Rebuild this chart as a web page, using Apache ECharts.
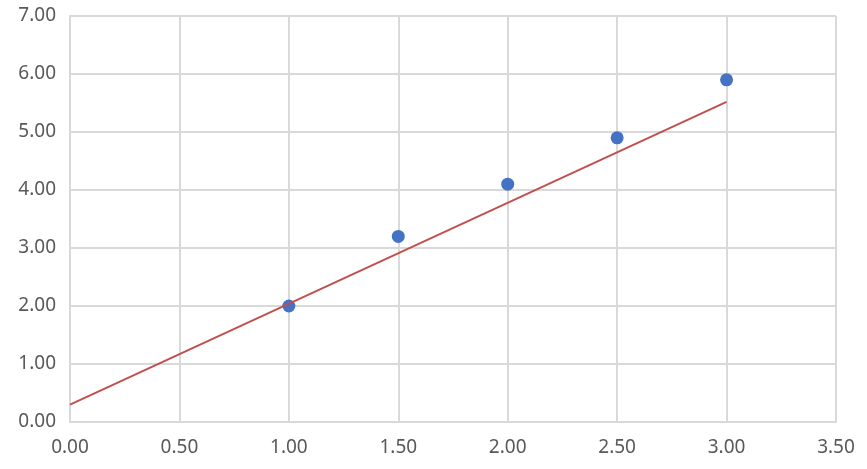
<!DOCTYPE html>
<html>
<head>
<meta charset="utf-8">
<script src="https://cdn.jsdelivr.net/npm/echarts@6/dist/echarts.min.js"></script>
<style>html,body{margin:0;padding:0;background:#fff;}#c{width:867px;height:469px;}</style>
</head>
<body>
<div id="c"></div>
<script>
const xValues = [1.0, 1.5, 2.0, 2.5, 3.0];
const yValues = [2.0, 3.2, 4.1, 4.9, 5.9];
const lineX = [0, 3.0];
const lineY = [0.30, 5.52];

const chart = echarts.init(document.getElementById('c'));
const labelStyle = {color: '#595959', fontSize: 19, fontFamily: 'Noto Sans'};
chart.setOption({
  animation: false,
  grid: {left: 70, right: 31, top: 16, bottom: 47, containLabel: false},
  xAxis: {
    type: 'value', min: 0, max: 3.5, interval: 0.5,
    axisLine: {show: true, lineStyle: {color: '#d9d9d9', width: 2}},
    axisTick: {show: false},
    splitLine: {show: true, lineStyle: {color: '#d9d9d9', width: 2}},
    axisLabel: Object.assign({margin: 16, formatter: v => v.toFixed(2)}, labelStyle)
  },
  yAxis: {
    type: 'value', min: 0, max: 7, interval: 1,
    axisLine: {show: true, lineStyle: {color: '#d9d9d9', width: 2}},
    axisTick: {show: false},
    splitLine: {show: true, lineStyle: {color: '#d9d9d9', width: 2}},
    axisLabel: Object.assign({margin: 14, formatter: v => v.toFixed(2)}, labelStyle)
  },
  series: [
    {
      type: 'scatter',
      data: xValues.map((x, i) => [x, yValues[i]]),
      symbolSize: 13,
      itemStyle: {color: '#4472c4', opacity: 1},
      z: 2
    },
    {
      type: 'line',
      data: lineX.map((x, i) => [x, lineY[i]]),
      showSymbol: false,
      lineStyle: {color: '#c0504d', width: 2},
      z: 3
    }
  ]
});
</script>
</body>
</html>
